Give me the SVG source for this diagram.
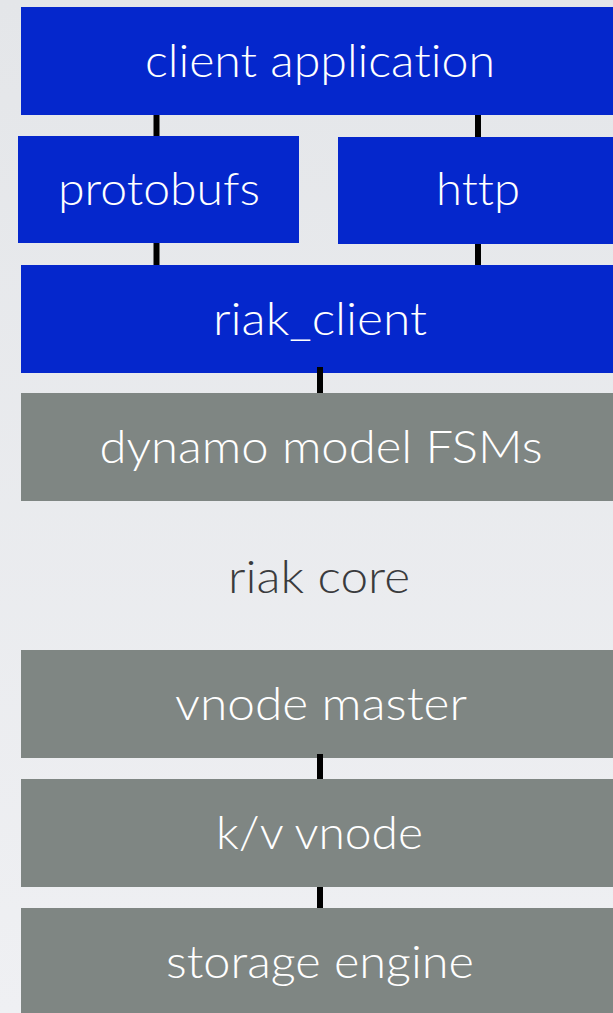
<svg xmlns="http://www.w3.org/2000/svg" width="613" height="1013" viewBox="0 0 613 1013">
  <defs>
    <linearGradient id="bg" x1="0" y1="0" x2="0" y2="1">
      <stop offset="0" stop-color="#e4e6e9"/>
      <stop offset="1" stop-color="#eff0f3"/>
    </linearGradient>
    <style>
      .blue { fill: #0527cc; }
      .gray { fill: #7f8683; }
      .lbl { font-family: Lato, "Liberation Sans", sans-serif; font-weight: 300; font-size: 46px; fill: #ffffff; text-anchor: middle; font-variant-ligatures: none; font-feature-settings: "liga" 0, "dlig" 0; }
      .plain { fill: #3a3b3d; }
      .conn { stroke: #000000; stroke-width: 6; fill: none; }
    </style>
  </defs>
  <rect x="0" y="0" width="613" height="1013" fill="url(#bg)"/>

  <g id="client_application">
    <rect class="blue" x="21" y="7" width="598" height="108"/>
    <text class="lbl" x="320" y="77" textLength="350" lengthAdjust="spacingAndGlyphs">client application</text>
  </g>
  <g id="protobufs">
    <rect class="blue" x="18" y="136" width="281" height="107"/>
    <text class="lbl" x="159" y="205" textLength="202" lengthAdjust="spacingAndGlyphs">protobufs</text>
  </g>
  <g id="http">
    <rect class="blue" x="338" y="137" width="281" height="107"/>
    <text class="lbl" x="478" y="205" textLength="84" lengthAdjust="spacingAndGlyphs">http</text>
  </g>
  <g id="riak_client">
    <rect class="blue" x="21" y="265" width="598" height="108"/>
    <text class="lbl" x="320" y="335" textLength="214" lengthAdjust="spacingAndGlyphs">riak_client</text>
  </g>
  <g id="dynamo_model_fsms">
    <rect class="gray" x="21" y="393" width="598" height="108"/>
    <text class="lbl" x="321" y="463" textLength="443" lengthAdjust="spacingAndGlyphs">dynamo model FSMs</text>
  </g>
  <g id="riak_core">
    <text class="lbl plain" x="319" y="593" textLength="182" lengthAdjust="spacingAndGlyphs">riak core</text>
  </g>
  <g id="vnode_master">
    <rect class="gray" x="21" y="650" width="598" height="108"/>
    <text class="lbl" x="321" y="720" textLength="292" lengthAdjust="spacingAndGlyphs">vnode master</text>
  </g>
  <g id="kv_vnode">
    <rect class="gray" x="21" y="779" width="598" height="108"/>
    <text class="lbl" x="319.5" y="849" textLength="207" lengthAdjust="spacingAndGlyphs">k/v vnode</text>
  </g>
  <g id="storage_engine">
    <rect class="gray" x="21" y="908" width="598" height="110"/>
    <text class="lbl" x="320" y="978" textLength="308" lengthAdjust="spacingAndGlyphs">storage engine</text>
  </g>

  <g id="connectors">
    <line class="conn" x1="156.5" y1="115" x2="156.5" y2="136"/>
    <line class="conn" x1="478" y1="115" x2="478" y2="137"/>
    <line class="conn" x1="156.5" y1="243" x2="156.5" y2="265"/>
    <line class="conn" x1="478" y1="244" x2="478" y2="265"/>
    <line class="conn" x1="320" y1="367" x2="320" y2="393"/>
    <line class="conn" x1="320" y1="754" x2="320" y2="779"/>
    <line class="conn" x1="320" y1="887" x2="320" y2="908"/>
  </g>
</svg>
